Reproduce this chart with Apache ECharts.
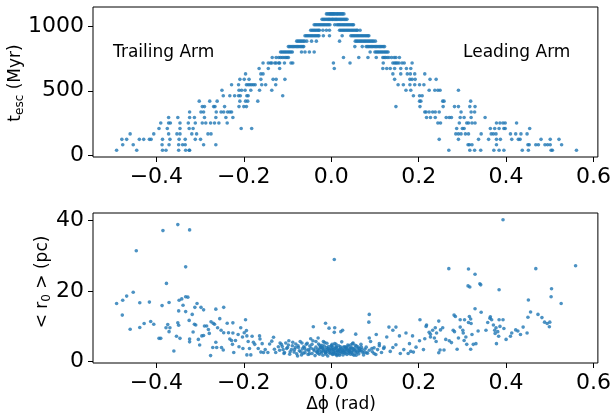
<!DOCTYPE html>
<html>
<head>
<meta charset="utf-8">
<script src="https://cdn.jsdelivr.net/npm/echarts@6/dist/echarts.min.js"></script>
<style>html,body{margin:0;padding:0;background:#fff}#c{width:614px;height:414px}</style>
</head>
<body>
<div id="c"></div>
<script>
// Escape-time levels (Myr)
const tLevels = [42,84,126,168,210,252,294,336,378,420,462,504,546,588,630,672,714,756,798,840,882,924,966,1008,1050,1092];
// Δφ (rad) of particles at each escape-time level (same order as tLevels)
const phiByLevel = [
  [-0.491,-0.445,-0.386,-0.378,-0.349,-0.333,-0.325,-0.324,0.269,0.317,0.328,0.342,0.372,0.384,0.395,0.437,0.451,0.503,0.506,0.561],
  [-0.477,-0.453,-0.387,-0.371,-0.349,-0.340,-0.334,-0.292,-0.264,0.313,0.316,0.322,0.378,0.450,0.453,0.468,0.474,0.489,0.495,0.501,0.527],
  [-0.479,-0.468,-0.439,-0.429,-0.416,-0.412,-0.386,-0.369,-0.348,-0.334,-0.311,-0.299,0.247,0.291,0.337,0.360,0.378,0.387,0.413,0.428,0.432,0.480,0.501,0.521],
  [-0.460,-0.406,-0.372,-0.353,-0.346,-0.319,-0.308,-0.282,-0.275,0.285,0.291,0.297,0.307,0.314,0.343,0.366,0.371,0.377,0.410,0.422,0.434,0.448],
  [-0.394,-0.375,-0.346,-0.325,-0.316,-0.206,-0.182,0.287,0.300,0.304,0.364,0.374,0.384,0.395,0.398,0.454],
  [-0.390,-0.372,-0.368,-0.346,-0.327,-0.311,-0.295,-0.287,-0.276,-0.267,-0.257,-0.238,0.244,0.250,0.293,0.310,0.314,0.322,0.329,0.378,0.386,0.393,0.398,0.424],
  [-0.372,-0.351,-0.324,-0.313,-0.290,-0.264,-0.241,-0.225,0.218,0.227,0.238,0.263,0.270,0.275,0.295,0.304,0.320,0.352],
  [-0.324,-0.298,-0.292,-0.263,-0.252,-0.246,-0.237,-0.232,-0.228,0.214,0.217,0.224,0.232,0.238,0.247,0.297,0.320,0.328],
  [-0.295,-0.290,-0.269,-0.266,-0.244,-0.211,-0.200,-0.194,0.148,0.203,0.256,0.282,0.291,0.317,0.329],
  [-0.302,-0.278,-0.261,-0.209,-0.196,-0.191,-0.168,0.202,0.205,0.255,0.258,0.319],
  [-0.247,-0.232,-0.221,-0.212,-0.208,-0.193,-0.190,-0.111,0.188,0.202,0.208],
  [-0.250,-0.211,-0.205,-0.197,-0.184,-0.164,-0.136,0.171,0.182,0.224,0.237,0.244,0.249,0.291],
  [-0.228,-0.212,-0.194,-0.190,-0.186,-0.182,-0.178,-0.174,-0.159,-0.150,-0.127,0.153,0.165,0.180,0.191,0.202,0.212],
  [-0.209,-0.199,-0.188,-0.161,-0.133,-0.126,-0.106,0.145,0.180,0.185,0.192,0.226,0.240],
  [-0.196,-0.161,-0.156,0.141,0.159,0.174,0.181,0.191,0.214],
  [-0.165,-0.144,-0.118,0.007,0.118,0.127,0.135,0.145,0.159,0.172,0.182],
  [-0.156,-0.144,-0.139,-0.136,-0.129,-0.126,-0.120,-0.118,-0.107,-0.092,-0.088,0.005,0.043,0.119,0.141,0.145,0.148,0.151,0.155,0.162,0.167,0.185],
  [-0.135,-0.126,-0.120,-0.116,-0.112,-0.108,-0.104,-0.101,-0.098,0.028,0.063,0.084,0.103,0.118,0.121,0.124,0.128,0.132,0.138,0.144,0.148,0.156],
  [-0.116,-0.113,-0.110,-0.107,-0.104,-0.101,-0.098,-0.095,-0.092,-0.089,-0.068,-0.060,-0.050,-0.039,0.089,0.100,0.103,0.106,0.109,0.112,0.115,0.118,0.121,0.124,0.127,0.130],
  [-0.098,-0.095,-0.092,-0.089,-0.086,-0.083,-0.080,-0.077,-0.074,-0.071,-0.068,-0.065,-0.063,0.054,0.071,0.080,0.083,0.086,0.089,0.092,0.095,0.098,0.101,0.104,0.107,0.110,0.113,0.116,0.119,0.122],
  [-0.079,-0.076,-0.073,-0.070,-0.067,-0.064,-0.061,-0.056,-0.045,-0.034,0.019,0.055,0.058,0.061,0.064,0.067,0.070,0.073,0.076,0.079,0.082,0.085,0.088,0.091,0.094,0.097,0.101],
  [-0.060,-0.057,-0.054,-0.051,-0.048,-0.045,-0.042,-0.039,-0.036,-0.033,-0.030,-0.028,-0.018,-0.004,0.025,0.045,0.048,0.051,0.054,0.057,0.060,0.063,0.066,0.069,0.072,0.075,0.078,0.081,0.084,0.086],
  [-0.047,-0.044,-0.041,-0.038,-0.035,-0.032,-0.029,-0.027,-0.019,-0.011,-0.004,0.019,0.022,0.025,0.028,0.031,0.034,0.037,0.040,0.043,0.046,0.049,0.052,0.055,0.058,0.060,0.066],
  [-0.039,-0.036,-0.033,-0.030,-0.027,-0.024,-0.021,-0.018,-0.015,-0.012,-0.009,-0.006,-0.003,0.008,0.013,0.016,0.019,0.022,0.025,0.028,0.031,0.034,0.037,0.040,0.043,0.046,0.049,0.051],
  [-0.021,-0.018,-0.015,-0.012,-0.009,-0.006,-0.004,-0.001,0.002,0.004,0.007,0.010,0.012,0.015,0.018,0.021,0.024,0.027,0.030,0.033,0.036],
  [-0.011,-0.008,-0.005,-0.003,-0.001,0.001,0.003,0.005,0.007,0.009,0.012,0.014,0.016,0.019,0.021,0.024,0.026,0.029]
];
// Bottom panel: [Δφ (rad), <r0> (pc)]
const r0Samples = [
  [-0.351,38.8],[-0.385,37.1],[-0.324,37.3],[-0.446,31.4],[-0.333,26.8],[-0.377,22.1],[0.007,28.9],
  [-0.453,19.6],[-0.468,18.5],[-0.477,17.3],[-0.491,16.4],[-0.478,13.1],[-0.460,9.1],[-0.438,16.6],[-0.438,9.6],
  [-0.428,10.7],[-0.416,16.8],[-0.413,11.3],[-0.406,10.5],[-0.394,6.5],[-0.390,6.5],[-0.387,15.8],[-0.378,9.5],
  [-0.374,10.4],[-0.371,16.7],[-0.369,9.5],[-0.371,8.4],[-0.360,2.9],[-0.354,7.1],[-0.351,10.9],[-0.349,10.2],
  [-0.346,6.5],[-0.348,17.3],[-0.342,17.7],[-0.339,15.9],[-0.333,18.3],[-0.328,18.2],[-0.349,14.3],[-0.333,14.1],
  [-0.325,11.6],[-0.324,6.3],[-0.324,5.5],[-0.316,8.3],[-0.313,10.5],[-0.310,10.3],[-0.307,16.4],[-0.312,15.3],
  [-0.318,13.3],[-0.298,15.3],[-0.292,14.6],[-0.301,4.6],[-0.304,6.2],[-0.296,7.2],[-0.292,7.3],[-0.290,10.0],
  [-0.285,10.0],[-0.281,9.0],[-0.279,7.9],[-0.275,11.2],[-0.276,1.6],[-0.271,3.9],[-0.270,10.8],[-0.267,10.5],
  [-0.264,14.8],[-0.264,5.4],[-0.262,3.9],[-0.260,9.5],[-0.255,12.1],[-0.252,8.8],[-0.251,3.9],[-0.246,15.3],
  [-0.246,8.1],[-0.247,3.2],[-0.238,10.8],[-0.235,8.1],[-0.232,6.3],[-0.228,5.9],[-0.225,10.9],[-0.225,8.0],
  [-0.226,4.8],[-0.223,2.5],[-0.219,5.9],[-0.213,7.6],[-0.211,4.1],[-0.207,9.5],[-0.203,6.9],[-0.202,3.6],
  [-0.199,8.1],[-0.196,11.8],[-0.194,8.7],[-0.193,7.2],[-0.190,5.6],[-0.193,1.8],[-0.187,3.6],[-0.184,1.8],
  [-0.181,7.1],[-0.178,5.4],[-0.175,4.8],[-0.167,3.6],[-0.164,7.2],[-0.163,6.3],[-0.161,2.6],[-0.158,5.0],
  [-0.155,2.5],[-0.151,3.3],[-0.145,2.5],[-0.141,4.9],[-0.136,5.7],[-0.132,6.8],[-0.130,3.4],[-0.127,2.5],
  [-0.121,4.1],[-0.117,5.2],[-0.114,4.8],[-0.110,3.3],[-0.107,2.5],[-0.104,5.2],[-0.100,3.9],[-0.097,5.8],
  [-0.094,2.7],[-0.089,4.4],[-0.084,3.3],[-0.081,4.9],[-0.077,1.5],[-0.075,3.9],[-0.070,2.7],[-0.067,5.2],
  [-0.064,2.3],[-0.061,3.8],[-0.057,4.8],[-0.052,3.3],[-0.050,2.1],[-0.047,6.4],[-0.044,4.8],[-0.041,9.8],
  [-0.040,3.4],[-0.035,5.6],[-0.032,2.7],[-0.030,6.6],[-0.026,4.5],[-0.021,3.8],[-0.018,5.6],[-0.013,10.8],
  [-0.013,2.5],[-0.010,5.1],[-0.005,9.4],[-0.004,3.4],[0.001,4.4],[0.004,2.1],[0.007,8.2],[0.011,4.0],[0.014,3.0],
  [0.393,40.2],[0.559,27.1],[0.269,26.3],[0.314,26.2],[0.468,26.3],[0.329,24.7],[0.313,21.4],[0.317,21.1],
  [0.340,22.0],[0.342,21.7],[0.384,20.3],[0.504,20.6],[0.503,18.3],[0.451,17.4],[0.526,16.4],[0.087,13.3],
  [0.086,11.1],[0.329,14.9],[0.343,13.9],[0.281,13.1],[0.284,12.7],[0.295,11.8],[0.305,11.8],[0.316,12.7],
  [0.319,12.0],[0.320,10.7],[0.450,12.5],[0.456,14.0],[0.473,13.3],[0.482,12.4],[0.488,11.1],[0.494,10.7],
  [0.500,11.1],[0.499,9.8],[0.364,12.6],[0.367,11.8],[0.358,11.0],[0.384,11.8],[0.393,11.8],[0.203,11.8],
  [0.218,10.3],[0.217,9.9],[0.246,11.4],[0.238,9.5],[0.250,8.9],[0.255,9.5],[0.232,8.8],[0.241,8.0],
  [0.227,7.7],[0.227,6.9],[0.224,8.2],[0.236,6.6],[0.214,6.4],[0.240,5.6],[0.246,2.4],[0.249,3.2],
  [0.258,3.2],[0.262,6.2],[0.270,5.8],[0.275,5.3],[0.279,8.8],[0.282,8.4],[0.288,3.4],[0.291,6.6],
  [0.295,9.7],[0.301,8.8],[0.302,8.0],[0.304,5.9],[0.308,6.9],[0.310,4.8],[0.314,11.0],[0.319,3.4],
  [0.322,7.6],[0.325,4.8],[0.331,5.0],[0.336,8.6],[0.354,8.8],[0.363,12.2],[0.371,10.3],[0.374,8.8],
  [0.375,7.9],[0.377,9.5],[0.378,5.0],[0.381,8.4],[0.383,7.1],[0.386,9.9],[0.395,9.3],[0.400,6.2],
  [0.410,7.1],[0.413,8.0],[0.422,8.9],[0.427,8.6],[0.433,7.6],[0.439,9.7],[0.448,8.0],
  [0.132,9.7],[0.148,9.7],[0.141,8.8],[0.127,6.9],[0.171,8.0],[0.186,7.2],[0.156,7.2],[0.103,7.6],
  [0.087,6.6],[0.056,7.7],[0.026,8.8],[0.022,8.4],[0.008,9.5],[0.202,5.8],[0.179,5.0],[0.194,4.0],
  [0.211,3.3],[0.176,2.2],[0.182,2.8],[0.188,2.6],[0.158,2.2],[0.166,3.3],[0.141,3.9],[0.148,4.7],
  [0.135,2.8],[0.121,4.0],[0.110,5.0],[0.098,2.2],[0.093,3.6],[0.080,2.4],[0.069,4.0],[0.064,3.0],
  [0.057,1.7],[0.049,5.0],[0.042,2.8],[0.034,4.0],[0.026,3.0],[0.019,1.7],[0.011,4.8],[0.004,3.4],
  [-0.118,3.1],[-0.112,4.2],[-0.108,2.2],[-0.102,3.6],[-0.098,4.6],[-0.095,2.0],[-0.091,3.3],[-0.088,5.4],
  [-0.085,2.6],[-0.082,3.9],[-0.079,2.1],[-0.076,4.4],[-0.073,3.0],[-0.071,5.6],[-0.068,1.8],[-0.066,3.5],
  [-0.063,4.1],[-0.060,2.4],[-0.058,3.2],[-0.055,5.1],[-0.053,1.9],[-0.051,2.9],[-0.049,4.3],[-0.046,3.7],
  [-0.044,2.2],[-0.042,5.8],[-0.039,3.0],[-0.037,1.6],[-0.035,4.0],[-0.033,2.6],[-0.031,3.4],[-0.029,4.9],
  [-0.027,2.0],[-0.025,3.8],[-0.023,2.8],[-0.021,4.5],[-0.019,1.7],[-0.017,3.3],[-0.015,5.3],[-0.013,2.4],
  [-0.011,3.9],[-0.009,2.9],[-0.008,1.5],[-0.006,4.2],[-0.004,3.1],[-0.002,2.2],[0.000,3.6],[0.002,4.8],
  [0.003,1.9],[0.005,2.7],[0.006,3.4],[0.008,5.0],[0.010,2.3],[0.012,3.9],[0.013,1.6],[0.015,2.9],
  [0.017,4.4],[0.018,3.2],[0.020,2.1],[0.022,3.7],[0.024,5.5],[0.026,2.5],[0.027,1.8],[0.029,3.0],
  [0.031,4.1],[0.033,2.7],[0.035,3.5],[0.036,1.9],[0.038,4.6],[0.040,2.3],[0.042,3.3],[0.044,2.0],
  [0.046,3.9],[0.048,2.8],[0.050,5.2],[0.052,1.7],[0.054,3.1],[0.056,2.4],[0.058,4.3],[0.061,3.6],
  [0.063,2.1],[0.066,3.0],[0.068,4.8],[0.071,2.6],[0.074,1.8],[0.077,3.4],[0.080,4.0],[0.083,2.3],
  [0.087,3.1],[0.090,5.6],[0.094,2.7],[0.098,3.8],[0.102,1.9],[0.106,3.3],[0.110,4.4],[0.115,2.5],[0.120,3.6],
  [-0.030,2.3],[-0.024,4.0],[-0.018,3.0],[-0.012,2.0],[-0.007,3.6],[-0.001,2.6],[0.004,4.0],[0.009,3.0],
  [0.014,2.0],[0.019,3.4],[0.023,2.6],[0.028,4.0],[0.032,2.2],[0.037,3.2],[0.041,2.6],[0.045,4.7],
  [0.049,2.0],[0.053,3.7],[0.057,2.9],[0.062,4.0],
  [-0.028,3.1],[-0.022,2.4],[-0.016,4.3],[-0.010,3.3],[-0.005,2.5],[0.001,3.2],[0.006,2.4],[0.011,3.6],
  [0.016,2.6],[0.021,4.1],[0.025,3.3],[0.030,2.5],[0.034,3.8],[0.039,2.9],[0.043,3.6],[0.047,2.5],
  [0.051,3.3],[0.055,4.5],[0.060,2.6],[0.065,3.5],[0.070,3.3],[0.075,2.6],[-0.020,3.7],[-0.014,2.8],
  [0.000,4.3],[0.010,1.9],[0.020,2.8],[0.031,3.3],[0.040,4.3],[0.048,3.6]
];
const xTicks = [-0.4,-0.2,0.0,0.2,0.4,0.6];
const tTicks = [0,500,1000];
const r0Ticks = [0,20,40];

const topData = [];
tLevels.forEach((t, i) => phiByLevel[i].forEach(p => topData.push([p, t])));

const FONT = 'DejaVu Sans';
const fmtX = v => (v < 0 ? '\u2212' : '') + Math.abs(v).toFixed(1);
const fmtY = v => String(Math.round(v));
function xAxis(gi, ticks) {
  return {
    type: 'value', gridIndex: gi, min: -0.545, max: 0.61,
    axisLine: { show: false, onZero: false },
    axisTick: { show: true, length: 5, inside: false, customValues: ticks, lineStyle: { color: '#000', width: 1 } },
    axisLabel: { customValues: ticks, formatter: fmtX, fontFamily: FONT, fontSize: 22, color: '#000', margin: 9 },
    splitLine: { show: false }
  };
}
function yAxis(gi, min, max, ticks) {
  return {
    type: 'value', gridIndex: gi, min: min, max: max,
    axisLine: { show: false, onZero: false },
    axisTick: { show: true, length: 5, customValues: ticks, lineStyle: { color: '#000', width: 1 } },
    axisLabel: { customValues: ticks, formatter: fmtY, fontFamily: FONT, fontSize: 22, color: '#000', margin: 9 },
    splitLine: { show: false }
  };
}
const chart = echarts.init(document.getElementById('c'), null, { renderer: 'canvas' });
const rich = {
  a: { fontFamily: FONT, fontSize: 17, color: '#000', lineHeight: 22 },
  s: { fontFamily: FONT, fontSize: 12, color: '#000', lineHeight: 22, padding: [7, 0, 0, 0] }
};
chart.setOption({
  animation: false,
  backgroundColor: '#fff',
  grid: [
    { left: 93, top: 7, width: 506, height: 150, show: true, borderColor: '#000', borderWidth: 1, backgroundColor: 'transparent' },
    { left: 93, top: 213, width: 506, height: 150, show: true, borderColor: '#000', borderWidth: 1, backgroundColor: 'transparent' }
  ],
  xAxis: [xAxis(0, xTicks), xAxis(1, xTicks)],
  yAxis: [yAxis(0, -10, 1145, tTicks), yAxis(1, -0.5, 42.1, r0Ticks)],
  series: [
    { type: 'scatter', xAxisIndex: 0, yAxisIndex: 0, data: topData, symbolSize: 3.6, itemStyle: { color: '#1f77b4' } },
    { type: 'scatter', xAxisIndex: 1, yAxisIndex: 1, data: r0Samples, symbolSize: 3.6, itemStyle: { color: '#1f77b4' } }
  ],
  graphic: [
    { type: 'text', x: 113, y: 53, style: { text: 'Trailing Arm', fontFamily: FONT, fontSize: 17, fill: '#000', verticalAlign: 'middle' } },
    { type: 'text', x: 463, y: 53, style: { text: 'Leading Arm', fontFamily: FONT, fontSize: 17, fill: '#000', verticalAlign: 'middle' } },
    { type: 'text', x: 16, y: 83, rotation: Math.PI / 2, style: { text: '{a|t}{s|esc}{a| (Myr)}', rich: rich, align: 'center', verticalAlign: 'middle' } },
    { type: 'text', x: 43, y: 282, rotation: Math.PI / 2, style: { text: '{a|< r}{s|0}{a| > (pc)}', rich: rich, align: 'center', verticalAlign: 'middle' } },
    { type: 'text', x: 341, y: 405, style: { text: '\u0394\u03D5 (rad)', fontFamily: FONT, fontSize: 17, fill: '#000', align: 'center', verticalAlign: 'middle' } }
  ]
});
</script>
</body>
</html>
